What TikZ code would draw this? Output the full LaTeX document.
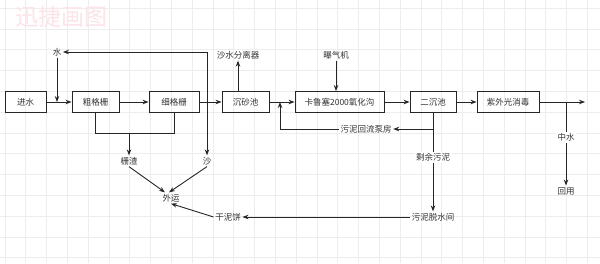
\documentclass[tikz,border=0pt]{standalone}
\usepackage{fontspec}
\setmainfont{Noto Sans CJK SC}
\usetikzlibrary{arrows.meta,positioning,calc}

\definecolor{wmpink}{RGB}{252,228,232}

\begin{document}
\begin{tikzpicture}[x=1pt, y=-1pt,
  box/.style={draw=black!85, line width=0.9pt, minimum height=21pt, inner xsep=3pt, font=\fontsize{8.5}{10}\selectfont, text=black!80},
  lbl/.style={font=\fontsize{8.5}{10}\selectfont, text=black!80, inner sep=1.5pt},
  flow/.style={draw=black!85, line width=0.9pt},
  gridline/.style={black!7, line width=0.5pt},
  >={Stealth[length=6pt,width=4.5pt]}
]
  \useasboundingbox (0,0) rectangle (600,263);
  \fill[white] (0,0) rectangle (600,263);
  % background grid
  \foreach \gx in {0,...,28} \draw[gridline] (4.8+20.8*\gx,0) -- (4.8+20.8*\gx,263);
  \foreach \gy in {0,...,12} \draw[gridline] (0,8+20.8*\gy) -- (600,8+20.8*\gy);
  \node[font=\fontsize{23}{23}\selectfont, text=wmpink] (wm) at (62,17) {迅捷画图};

  % main line
  \node[box, minimum width=41pt] (jinshui) at (25.5,102) {进水};
  \node[box, minimum width=47pt] (cu) at (95.5,102) {粗格栅};
  \node[box, minimum width=50pt] (xi) at (174,102) {细格栅};
  \node[box, minimum width=47pt] (chensha) at (245.5,102) {沉砂池};
  \node[box, minimum width=89pt] (yhg) at (339.5,102) {卡鲁塞2000氧化沟};
  \node[box, minimum width=46pt] (erchen) at (433,102) {二沉池};
  \node[box, minimum width=62pt] (zw) at (508,102) {紫外光消毒};
  \coordinate (out) at (585,102);

  \node[lbl] (shui) at (57,52) {水};
  \node[lbl] (shashui) at (238,55) {沙水分离器};
  \node[lbl] (baoqi) at (336,55) {曝气机};
  \node[lbl] (huiliu) at (366,129) {污泥回流泵房};
  \node[lbl] (zhazha) at (129,161) {栅渣};
  \node[lbl] (sha) at (207,161) {沙};
  \node[lbl] (waiyun) at (171,198) {外运};
  \node[lbl] (ganni) at (228,217) {干泥饼};
  \node[lbl] (tuoshui) at (433,217) {污泥脱水间};
  \node[lbl] (huiyong) at (566,191) {回用};

  \draw[flow,->] (jinshui) -- (cu);
  \draw[flow,->] (cu) -- (xi);
  \draw[flow,->] (xi) -- (chensha);
  \draw[flow,->] (chensha) -- (yhg);
  \draw[flow,->] (yhg) -- (erchen);
  \draw[flow,->] (erchen) -- (zw);
  \draw[flow,->] (zw) -- (out);

  \draw[flow,->] (shui) -- (shui |- jinshui);
  \draw[flow,<->] (shui) -| (sha);
  \draw[flow,->] (shashui.south |- chensha.north) -- (shashui);
  \draw[flow,->] (baoqi) -- (baoqi |- yhg.north);

  % screenings
  \draw[flow] (cu.south) -- ++(0,20.5) coordinate (gj) -| (xi.south);
  \draw[flow,->] (gj -| zhazha) -- (zhazha);
  \draw[flow,->] (zhazha.south) -- ([xshift=-6pt]waiyun.north);
  \draw[flow,->] (sha.south) -- ([xshift=-2pt]waiyun.north);
  \draw[flow,->] (ganni.west) -- (waiyun.south);

  % sludge
  \coordinate (hl) at ($(chensha.east)!0.42!(yhg.west)$);
  \draw[flow,->] (erchen.south |- huiliu) -- (huiliu);
  \draw[flow,->] (huiliu) -| (hl);
  \draw[flow,->] (erchen) -- node[lbl, fill=white, pos=0.45] (shengyu) {剩余污泥} (tuoshui);
  \draw[flow,->] (tuoshui) -- (ganni);

  % reuse
  \coordinate (zs) at (566,102);
  \draw[flow,->] (zs) -- node[lbl, fill=white, pos=0.42] (zhongshui) {中水} (huiyong);
\end{tikzpicture}
\end{document}
